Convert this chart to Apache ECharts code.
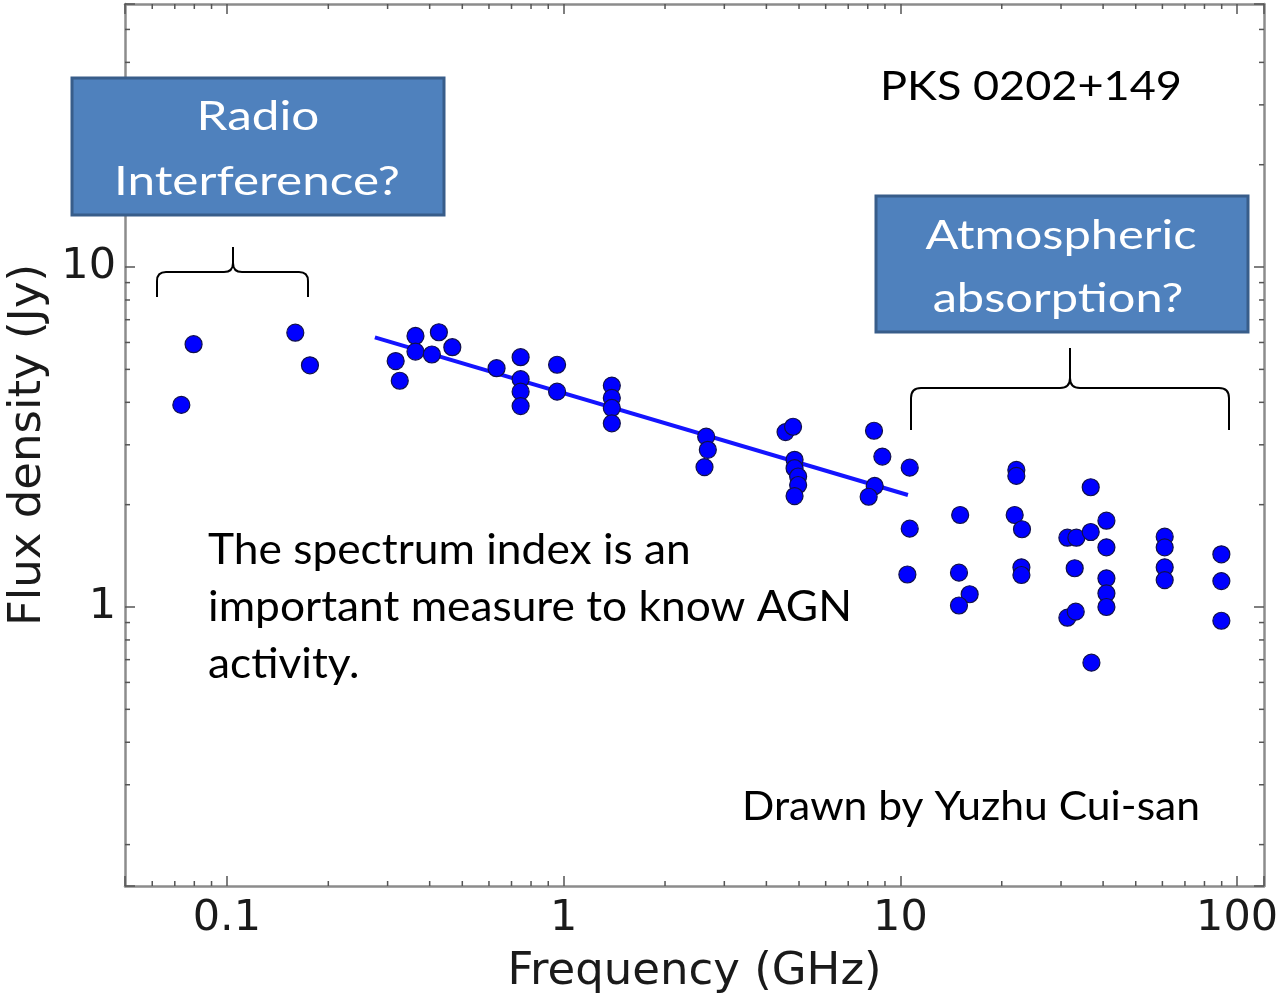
<!DOCTYPE html>
<html>
<head>
<meta charset="utf-8">
<script src="https://cdn.jsdelivr.net/npm/echarts@6/dist/echarts.min.js"></script>
<style>
html,body{margin:0;padding:0;background:#fff;}
#chart{width:1287px;height:1000px;}
</style>
</head>
<body>
<div id="chart"></div>
<script>
// ---- data ----
const freqGHz = [0.0732,0.0796,0.1596,0.1764,0.317,0.326,0.363,0.363,0.406,0.426,0.467,0.632,
  0.745,0.745,0.745,0.745,0.956,0.956,1.39,1.39,1.39,1.39,2.65,2.68,2.62,
  4.56,4.80,4.85,4.85,4.97,4.97,4.85,8.35,8.84,8.39,8.05,10.66,10.66,10.49,
  15.05,14.93,16.06,14.93,22.1,22.1,21.85,22.97,22.88,22.88,31.33,33.32,36.75,36.75,
  40.92,40.92,32.94,40.92,40.92,40.92,31.33,33.17,36.93,60.95,60.95,60.95,60.95,89.8,89.8,89.8];
const fluxJy = [3.93,5.93,6.41,5.14,5.29,4.63,6.27,5.64,5.53,6.43,5.81,5.04,
  5.43,4.68,4.30,3.90,5.16,4.30,4.48,4.12,3.85,3.47,3.17,2.90,2.58,
  3.27,3.39,2.71,2.56,2.42,2.285,2.12,3.30,2.77,2.27,2.11,2.57,1.70,1.246,
  1.865,1.262,1.090,1.01,2.53,2.43,1.865,1.693,1.308,1.242,1.599,1.599,2.25,1.662,
  1.794,1.498,1.300,1.214,1.097,1.00,0.930,0.969,0.686,1.610,1.498,1.308,1.200,1.429,1.192,0.911];
const fitFreq = [0.275, 10.53];
const fitFlux = [6.21, 2.135];
const xMinorTicks = [0.06,0.07,0.08,0.09,0.2,0.3,0.4,0.5,0.6,0.7,0.8,0.9,2,3,4,5,6,7,8,9,20,30,40,50,60,70,80,90];
const yMinorTicks = [0.2,0.3,0.4,0.5,0.6,0.7,0.8,0.9,2,3,4,5,6,7,8,9,20,30,40,50];
const xRange = [0.0498, 120.2];
const yRange = [0.1511, 59.4];
const xTitle = 'Frequency (GHz)';
const yTitle = 'Flux density (Jy)';

// ---- helpers ----
const mctx = document.createElement('canvas').getContext('2d');
function fitScale(text, size, family, target){
  mctx.font = size + 'px ' + family;
  return target / mctx.measureText(text).width;
}
const TF = 'Lato';
const AF = '"DejaVu Sans", Verdana, sans-serif';
function txt(text, x, y, size, scale, align, color){
  return {type:'text', x:x, y:y, scaleX:scale, z:100,
    style:{text:text, x:0, y:0, fill:color, font: size + 'px ' + TF,
      textAlign:align, textVerticalAlign:'middle'}};
}
function brace(xl, xr, xm, yLine, yEnd, yTip, r){
  const st = {stroke:'#000', lineWidth:2, fill:'none'};
  const L = (a,b,c,d)=>({type:'line', z:50, shape:{x1:a,y1:b,x2:c,y2:d}, style:st});
  const Q = (a,b,cx,cy,c,d)=>({type:'bezierCurve', z:50, shape:{x1:a,y1:b,cpx1:cx,cpy1:cy,x2:c,y2:d}, style:st});
  return [
    L(xl,yEnd,xl,yLine+r), Q(xl,yLine+r,xl,yLine,xl+r,yLine), L(xl+r,yLine,xm-r,yLine),
    Q(xm-r,yLine,xm,yLine,xm,yLine-r), L(xm,yLine-r,xm,yTip),
    Q(xm,yLine-r,xm,yLine,xm+r,yLine), L(xm+r,yLine,xr-r,yLine),
    Q(xr-r,yLine,xr,yLine,xr,yLine+r), L(xr,yLine+r,xr,yEnd)
  ];
}

const scatterData = freqGHz.map((f,i)=>[f, fluxJy[i]]);
const fitData = fitFreq.map((f,i)=>[f, fitFlux[i]]);

const axisLineStyle = {color:'#8c8c8c', width:2.5};
const tickStyle = {color:'#555', width:1.5};
function powLabel(v){
  const l = Math.log10(v);
  if (Math.abs(l - Math.round(l)) > 1e-6) return '';
  return String(+Number(v).toPrecision(6));
}

const chart = echarts.init(document.getElementById('chart'), null, {renderer:'canvas'});

const sBody = fitScale('important measure to know AGN', 42, TF, 644);
const sRadio = fitScale('Interference?', 41, TF, 286);
const sAtm = fitScale('Atmospheric', 41, TF, 271);

const option = {
  backgroundColor:'#fff',
  animation:false,
  textStyle:{fontFamily:AF},
  grid:{left:125, right:23, top:4, bottom:114, containLabel:false, outerBoundsMode:'none'},
  xAxis:[{
    type:'log', logBase:10, min:xRange[0], max:xRange[1], position:'bottom',
    name:xTitle, nameLocation:'middle', nameGap:64,
    nameTextStyle:{fontFamily:AF, fontSize:45, color:'#1a1a1a'},
    axisLine:{show:true, lineStyle:axisLineStyle},
    axisTick:{show:true, inside:true, length:10, lineStyle:tickStyle},
    axisLabel:{show:true, margin:11, formatter:powLabel, fontFamily:AF, fontSize:43, color:'#1a1a1a'},
    splitLine:{show:false}
  },{
    type:'log', logBase:10, min:xRange[0], max:xRange[1], position:'top',
    axisLine:{show:true, lineStyle:axisLineStyle},
    axisTick:{show:true, inside:true, length:10, lineStyle:tickStyle},
    axisLabel:{show:false}, splitLine:{show:false}
  }],
  yAxis:[{
    type:'log', logBase:10, min:yRange[0], max:yRange[1], position:'left',
    name:yTitle, nameLocation:'middle', nameGap:71,
    nameTextStyle:{fontFamily:AF, fontSize:45, color:'#1a1a1a'},
    axisLine:{show:true, lineStyle:axisLineStyle},
    axisTick:{show:true, inside:true, length:10, lineStyle:tickStyle},
    axisLabel:{show:true, margin:9, formatter:powLabel, fontFamily:AF, fontSize:43, color:'#1a1a1a'},
    splitLine:{show:false}
  },{
    type:'log', logBase:10, min:yRange[0], max:yRange[1], position:'right',
    axisLine:{show:true, lineStyle:axisLineStyle},
    axisTick:{show:true, inside:true, length:10, lineStyle:tickStyle},
    axisLabel:{show:false}, splitLine:{show:false}
  }],
  series:[
    {type:'custom', name:'xminor', xAxisIndex:0, yAxisIndex:0, silent:true, clip:false, z:1,
      data: xMinorTicks.map(v=>[v,1]),
      renderItem:function(params, api){
        const cs = params.coordSys;
        const x = api.coord([api.value(0), 1])[0];
        const b = cs.y + cs.height, t = cs.y;
        return {type:'group', children:[
          {type:'line', shape:{x1:x, y1:b, x2:x, y2:b-5}, style:{stroke:'#555', lineWidth:1.5}},
          {type:'line', shape:{x1:x, y1:t, x2:x, y2:t+5}, style:{stroke:'#555', lineWidth:1.5}}
        ]};
      }},
    {type:'custom', name:'yminor', xAxisIndex:0, yAxisIndex:0, silent:true, clip:false, z:1,
      data: yMinorTicks.map(v=>[1,v]),
      renderItem:function(params, api){
        const cs = params.coordSys;
        const y = api.coord([1, api.value(1)])[1];
        const l = cs.x, r = cs.x + cs.width;
        return {type:'group', children:[
          {type:'line', shape:{x1:l, y1:y, x2:l+5, y2:y}, style:{stroke:'#555', lineWidth:1.5}},
          {type:'line', shape:{x1:r, y1:y, x2:r-5, y2:y}, style:{stroke:'#555', lineWidth:1.5}}
        ]};
      }},
    {type:'line', name:'fit', data:fitData, showSymbol:false, symbol:'none', z:3,
      lineStyle:{color:'#1414ff', width:4}},
    {type:'scatter', name:'flux', data:scatterData, symbol:'circle', symbolSize:17, z:4,
      itemStyle:{color:'#0000ff', borderColor:'#10104a', borderWidth:1.2, opacity:1}}
  ],
  graphic:[].concat(
    brace(157, 308, 233, 272, 297, 247, 9),
    brace(911, 1229, 1070, 388, 430, 348, 10),
    [
    {type:'rect', z:60, shape:{x:72, y:78, width:372, height:137}, style:{fill:'#4f81bd', stroke:'#385d8a', lineWidth:3}},
    {type:'rect', z:60, shape:{x:876, y:196, width:372, height:136}, style:{fill:'#4f81bd', stroke:'#385d8a', lineWidth:3}},
    txt('Radio', 258, 117, 41, sRadio, 'center', '#fff'),
    txt('Interference?', 257, 182, 41, sRadio, 'center', '#fff'),
    txt('Atmospheric', 1061, 236, 41, sAtm, 'center', '#fff'),
    txt('absorption?', 1058, 299, 41, sAtm, 'center', '#fff'),
    txt('PKS 0202+149', 880, 87, 41, fitScale('PKS 0202+149', 41, TF, 302), 'left', '#000'),
    txt('The spectrum index is an', 208, 550, 42, sBody, 'left', '#000'),
    txt('important measure to know AGN', 208, 607, 42, sBody, 'left', '#000'),
    txt('activity.', 208, 664, 42, sBody, 'left', '#000'),
    txt('Drawn by Yuzhu Cui-san', 742, 807, 40, fitScale('Drawn by Yuzhu Cui-san', 40, TF, 458), 'left', '#000')
    ])
};
chart.setOption(option);
</script>
</body>
</html>
